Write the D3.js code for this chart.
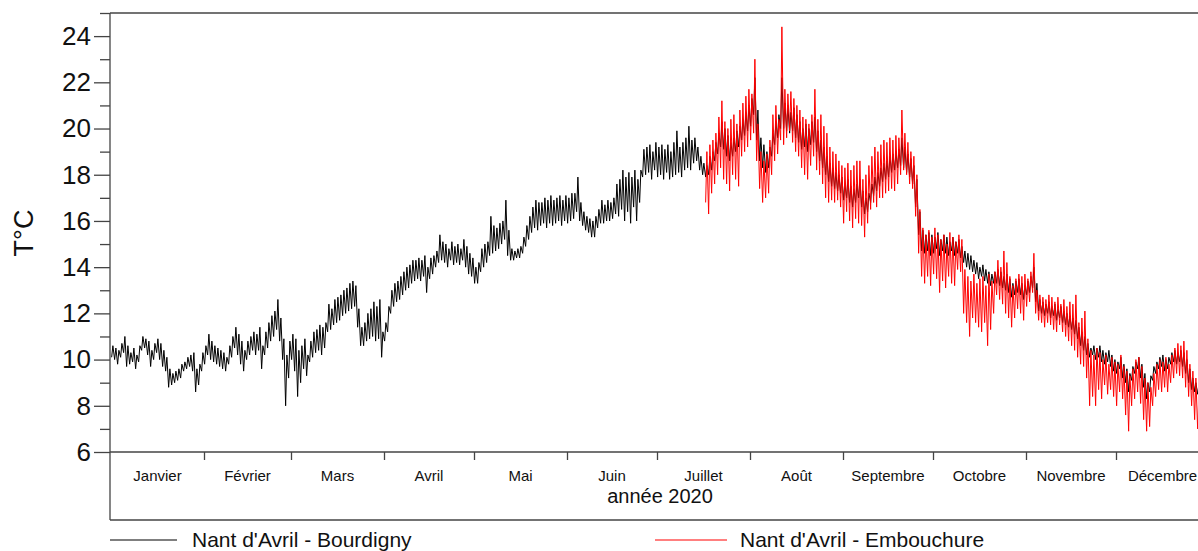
<!DOCTYPE html>
<html><head><meta charset="utf-8">
<script src="https://cdn.jsdelivr.net/npm/d3@7"></script>
<style>body{margin:0;background:#fff} svg{display:block} text{font-family:"Liberation Sans",Arial,sans-serif;fill:#111}</style>
</head><body><svg id="c" width="1198" height="551"></svg>
<script>
const monthLabels = ["Janvier","Février","Mars","Avril","Mai","Juin","Juillet","Août","Septembre","Octobre","Novembre","Décembre"];
const yMajorTicks = [6,8,10,12,14,16,18,20,22,24];
const yMinorTicks = [7,9,11,13,15,17,19,21,23,25];
const seriesNames = ["Nant d'Avril - Bourdigny","Nant d'Avril - Embouchure"];
const xTitle = "année 2020";
const yTitle = "T°C";

// Bourdigny: daily max / min, day 0 = 1 Jan 2020 (366 days)
const bourdignyMax = [
10.6,10.5,10.4,10.7,11.0,10.6,10.3,10.5,10.2,10.6,
11.0,10.9,10.8,10.4,10.7,10.9,10.7,10.4,10.1,9.6,
9.4,9.5,9.6,9.8,9.9,10.1,10.2,10.3,9.6,9.8,
10.3,10.6,11.1,10.8,10.6,10.5,10.4,10.3,10.1,10.6,
11.0,11.4,11.1,10.8,10.4,10.8,11.0,11.2,11.1,11.4,
10.6,11.2,11.6,11.9,12.1,12.6,11.8,10.9,10.2,10.8,
11.1,10.9,10.4,10.6,10.9,10.2,10.8,11.2,11.3,11.5,
11.4,11.6,12.4,12.2,12.6,12.7,12.8,13.0,13.1,13.3,
13.4,13.2,12.2,11.4,11.6,12.0,12.2,12.5,12.3,12.6,
11.2,11.6,12.3,13.0,13.3,13.4,13.6,13.8,14.0,14.1,
14.3,14.3,14.4,14.3,14.5,14.0,14.4,14.5,14.7,15.4,
15.1,15.0,14.8,15.1,14.9,15.0,14.8,15.2,14.9,14.6,
14.4,14.0,14.2,14.8,15.0,15.1,16.2,15.8,15.7,15.9,
16.0,16.9,15.6,14.8,14.7,14.8,14.9,15.3,15.8,16.2,
16.6,16.9,16.8,16.8,17.0,16.9,17.1,16.9,17.0,17.1,
16.9,17.1,17.0,17.2,17.2,17.9,16.8,16.4,16.2,16.1,
16.0,16.2,16.5,16.9,16.7,16.9,16.8,17.0,17.6,17.8,
18.2,17.9,18.1,17.9,18.2,17.8,18.2,19.1,19.2,19.3,
19.0,19.4,19.2,19.3,19.1,19.3,19.0,19.4,19.9,19.2,
19.4,19.6,20.1,19.5,19.6,19.2,18.8,18.5,18.4,18.8,
19.0,19.4,19.8,20.3,20.0,19.7,19.4,19.6,19.9,20.1,
20.4,20.7,21.0,21.3,22.2,20.8,19.6,19.3,19.0,19.2,
19.8,20.3,20.6,22.2,21.1,21.0,20.7,20.9,20.6,20.3,
20.0,20.2,20.0,20.3,20.5,19.9,19.5,19.2,18.8,18.5,
18.3,18.1,18.0,17.9,17.6,17.8,17.5,17.4,17.6,17.8,
17.3,17.0,17.2,17.6,17.9,18.1,18.3,18.5,18.6,18.8,
18.9,19.0,19.1,19.6,19.2,18.9,18.7,18.4,17.8,16.4,
15.6,15.4,15.5,15.4,15.3,15.5,15.2,15.4,15.3,15.1,
15.3,15.1,15.2,14.9,14.7,14.6,14.5,14.3,14.2,14.0,
14.1,13.9,13.8,13.7,13.8,13.9,13.8,13.6,13.7,13.5,
13.3,13.4,13.5,13.3,13.2,13.4,13.6,14.0,13.3,12.6,
12.5,12.4,12.5,12.3,12.4,12.2,12.3,12.1,12.0,11.9,
11.8,11.7,11.4,11.2,11.0,10.7,10.5,10.6,10.5,10.6,
10.4,10.3,10.4,10.2,10.0,9.9,10.1,9.8,9.6,9.4,
9.7,9.9,10.1,9.8,9.4,9.0,9.3,9.7,9.9,10.1,
10.2,10.0,10.1,10.3,10.4,10.3,10.4,10.3,10.0,9.6,
9.2,9.0,8.9,8.8,8.9,8.8];
const bourdignyMin = [
10.1,10.0,9.8,10.1,10.3,9.7,9.8,9.9,9.6,9.9,
10.4,10.5,10.2,9.7,10.0,10.3,10.0,9.7,9.5,8.8,
8.9,9.0,9.1,9.2,9.5,9.6,9.7,9.5,8.6,8.9,
9.5,9.8,10.2,10.0,9.9,9.8,9.7,9.6,9.5,9.8,
10.1,10.5,10.2,9.8,9.5,10.0,10.2,10.4,10.2,10.4,
9.6,10.2,10.5,10.8,11.0,11.3,10.8,10.0,8.0,9.2,
10.0,9.5,8.4,9.0,9.6,9.3,9.9,10.1,10.3,10.4,
10.2,10.5,11.2,11.3,11.5,11.6,11.7,11.9,12.0,12.1,
12.2,12.3,11.4,10.6,10.6,10.8,10.9,11.0,10.8,10.9,
10.1,10.8,11.2,12.0,12.3,12.5,12.6,12.8,13.0,13.1,
13.3,13.4,13.5,13.4,13.6,12.9,13.5,13.7,14.0,14.2,
14.3,14.2,14.0,14.3,14.1,14.2,14.1,14.3,14.0,13.7,
13.6,13.3,13.3,13.8,14.0,14.2,14.5,14.6,14.7,14.8,
15.0,15.2,14.5,14.3,14.3,14.4,14.4,14.6,14.9,15.2,
15.5,15.7,15.6,15.8,15.9,15.7,15.9,15.8,15.9,16.0,
15.8,16.0,15.9,16.0,16.1,16.4,16.0,15.8,15.6,15.5,
15.3,15.3,15.7,15.9,15.9,16.0,16.0,16.1,16.3,16.2,
16.5,16.0,16.4,15.9,16.6,16.0,16.8,17.9,18.0,18.1,
17.8,18.2,17.9,18.0,17.8,18.1,17.8,17.9,18.0,18.1,
17.9,18.2,18.3,18.2,18.5,18.6,18.2,18.0,17.9,18.0,
18.2,18.6,18.9,19.2,19.1,18.8,18.6,18.8,19.0,19.2,
19.5,19.7,19.9,20.1,20.6,19.5,18.6,18.3,18.1,18.3,
18.8,19.3,19.6,20.0,20.0,19.9,19.8,19.9,19.6,19.4,
19.1,19.2,19.0,19.3,19.4,19.0,18.6,18.3,18.0,17.7,
17.5,17.4,17.3,17.2,16.9,17.0,16.8,16.6,16.8,17.0,
16.6,16.3,16.4,16.8,17.1,17.3,17.5,17.7,17.8,17.9,
18.1,18.2,18.3,18.4,18.3,18.1,17.9,17.6,16.6,15.4,
14.7,14.6,14.7,14.5,14.6,14.8,14.5,14.7,14.6,14.5,
14.7,14.5,14.6,14.4,14.2,14.0,13.9,13.8,13.7,13.5,
13.6,13.4,13.3,13.2,13.3,13.3,13.2,13.1,13.0,12.9,
12.7,12.8,12.9,12.8,12.6,12.8,12.9,13.1,12.5,12.1,
12.0,11.9,12.0,11.8,11.9,11.7,11.8,11.6,11.5,11.4,
11.3,11.1,10.9,10.6,10.4,10.2,10.1,10.2,10.0,10.1,
9.9,9.8,9.9,9.7,9.5,9.4,9.6,9.2,9.0,8.6,
9.1,9.4,9.6,9.2,8.8,8.3,8.6,9.1,9.4,9.6,
9.7,9.5,9.6,9.8,9.9,9.8,9.9,9.7,9.4,9.0,
8.7,8.6,8.5,8.4,8.5,8.4];

// Embouchure: daily max / min from day 198 (17 July) to 31 Dec
const embouchureStartDay = 198;
const embouchureMax = [
19.0,19.3,19.5,19.8,20.5,21.2,20.3,20.0,20.4,20.6,
20.2,20.8,21.1,21.4,21.7,21.5,23.0,20.2,19.0,18.6,
18.9,19.5,20.6,21.0,20.4,24.4,21.7,21.5,21.6,21.3,
21.0,20.8,20.5,20.4,20.2,20.6,21.7,20.4,20.6,20.1,
19.8,19.2,19.0,18.9,18.6,18.4,18.3,18.5,18.2,18.4,
18.6,18.6,17.8,18.0,18.4,18.8,19.2,19.0,19.3,19.5,
19.4,19.6,19.5,19.7,19.6,20.8,19.8,19.4,19.0,18.8,
18.0,16.5,15.7,15.4,15.6,15.3,15.7,15.4,15.2,15.4,
15.0,15.5,15.3,15.1,15.4,15.2,13.9,13.6,13.4,13.7,
13.3,13.5,13.6,13.2,13.7,13.4,13.8,14.3,14.0,14.7,
14.2,13.6,13.2,13.5,13.7,13.6,13.7,13.5,13.8,14.6,
13.0,12.8,12.7,12.6,12.8,12.7,12.5,12.7,12.4,12.6,
12.3,12.5,12.4,12.8,11.6,11.8,12.1,10.9,10.4,10.2,
10.5,10.3,10.0,10.2,9.8,10.1,9.9,9.8,10.2,9.7,
9.5,9.3,9.6,10.0,10.1,9.7,9.2,9.0,8.8,9.4,
9.8,10.0,9.9,10.1,9.8,10.2,10.5,10.7,10.6,10.8,
10.4,9.8,9.5,9.2,8.5,8.3,8.6,8.4];
const embouchureMin = [
16.8,16.3,17.2,17.6,18.0,18.3,17.8,17.6,17.3,18.0,
17.8,17.5,18.8,19.0,19.2,19.5,19.8,18.6,17.4,16.8,
17.0,17.2,18.0,18.6,18.9,19.5,19.3,19.6,19.9,19.4,
19.0,18.8,18.3,18.0,17.8,18.4,18.8,18.2,18.0,17.6,
17.0,16.8,16.9,16.8,16.9,16.6,15.9,16.4,16.0,15.7,
16.1,15.9,15.8,15.3,15.9,16.5,16.8,16.6,17.0,17.0,
17.2,17.3,17.4,17.3,17.6,18.0,18.2,18.0,17.6,17.4,
16.2,14.6,13.6,13.3,13.6,13.2,13.7,13.5,12.9,13.4,
13.1,13.6,13.3,13.2,13.9,13.8,12.0,11.6,11.0,11.8,
11.6,11.4,11.2,11.6,10.6,11.3,12.0,12.8,12.6,12.4,
12.0,11.8,11.4,11.8,12.2,12.0,11.7,12.3,12.5,12.9,
12.0,11.7,11.6,11.4,11.6,11.5,11.3,11.2,11.5,11.2,
11.0,10.8,10.6,10.4,10.1,9.8,9.7,9.2,8.0,8.4,
8.0,8.7,8.3,8.9,8.5,8.7,8.4,8.0,8.6,8.3,
7.6,6.9,8.0,8.3,8.6,8.1,7.4,6.9,7.1,8.0,
8.4,8.7,8.6,8.8,8.6,9.0,9.2,9.4,9.3,9.2,
8.8,8.4,8.0,7.4,7.0,6.9,7.1,6.9];

const svg = d3.select("#c");
const W = 1198, H = 551;
const mLeft = 110, mTop = 13, axisY = 452, boxBottom = 520;
const x = d3.scaleUtc().domain([new Date(Date.UTC(2020,0,1)), new Date(Date.UTC(2021,0,1))]).range([111, 1209]);
const y = d3.scaleLinear().domain([6, 25]).range([axisY, mTop]);
const axisColor = "#444";

function dailyPoints(maxArr, minArr, start) {
  const pts = [];
  for (let i = 0; i < maxArr.length; i++) {
    pts.push([new Date(Date.UTC(2020, 0, 1 + start + i, 5)), minArr[i]]);
    pts.push([new Date(Date.UTC(2020, 0, 1 + start + i, 15)), maxArr[i]]);
  }
  return pts;
}
const line = d3.line().x(d => x(d[0])).y(d => y(d[1]));

svg.append("defs").append("clipPath").attr("id","plot")
  .append("rect").attr("x", mLeft).attr("y", mTop).attr("width", W - mLeft).attr("height", axisY - mTop);

const plot = svg.append("g").attr("clip-path","url(#plot)");
plot.append("path").datum(dailyPoints(bourdignyMax, bourdignyMin, 0))
  .attr("d", line).attr("fill","none").attr("stroke","#000").attr("stroke-width",1);
plot.append("path").datum(dailyPoints(embouchureMax, embouchureMin, embouchureStartDay))
  .attr("d", line).attr("fill","none").attr("stroke","#ff0000").attr("stroke-width",1);

// Y axes
const yMaj = svg.append("g").attr("transform",`translate(${mLeft},0)`)
  .call(d3.axisLeft(y).tickValues(yMajorTicks).tickSize(16).tickPadding(3).tickFormat(d3.format("d")));
const yMin = svg.append("g").attr("transform",`translate(${mLeft},0)`)
  .call(d3.axisLeft(y).tickValues(yMinorTicks).tickSize(10).tickFormat(""));
[yMaj, yMin].forEach(g => {
  g.select(".domain").remove();
  g.selectAll(".tick line").attr("stroke", axisColor).attr("stroke-width", 1.3);
});
yMaj.selectAll(".tick text").attr("font-size", 26).attr("font-family","Liberation Sans, Arial, sans-serif").attr("fill","#111");

// Month boundary ticks
const monthStarts = d3.utcMonths(new Date(Date.UTC(2020,1,1)), new Date(Date.UTC(2021,0,1)));
const xAx = svg.append("g").attr("transform",`translate(0,${axisY})`)
  .call(d3.axisBottom(x).tickValues(monthStarts).tickSize(8).tickFormat(""));
xAx.select(".domain").remove();
xAx.selectAll(".tick line").attr("stroke", axisColor).attr("stroke-width", 1.3);

// Frame lines
const frame = svg.append("g").attr("stroke", axisColor).attr("stroke-width", 1.3).attr("fill","none");
frame.append("line").attr("x1", mLeft).attr("x2", mLeft).attr("y1", mTop).attr("y2", boxBottom);
frame.append("line").attr("x1", mLeft).attr("x2", W).attr("y1", mTop).attr("y2", mTop);
frame.append("line").attr("x1", mLeft).attr("x2", W).attr("y1", axisY).attr("y2", axisY);
frame.append("line").attr("x1", mLeft).attr("x2", W).attr("y1", boxBottom).attr("y2", boxBottom);

// Month labels at mid-month
svg.append("g").selectAll("text").data(monthLabels).join("text")
  .attr("x", (d, i) => (x(new Date(Date.UTC(2020, i, 1))) + x(new Date(Date.UTC(2020, i + 1, 1)))) / 2)
  .attr("y", 481).attr("text-anchor","middle").attr("font-size", 15).text(d => d);

svg.append("text").attr("x", (x.range()[0] + x.range()[1]) / 2).attr("y", 503)
  .attr("text-anchor","middle").attr("font-size", 20).text(xTitle);

svg.append("text").attr("transform","translate(33,233) rotate(-90)")
  .attr("text-anchor","middle").attr("font-size", 27).text(yTitle);

// Legend
const legendItems = [
  {name: seriesNames[0], color: "#000", x1: 110, x2: 177, tx: 192},
  {name: seriesNames[1], color: "#ff0000", x1: 655, x2: 727, tx: 740}
];
const lg = svg.append("g");
lg.selectAll("line").data(legendItems).join("line")
  .attr("x1", d => d.x1).attr("x2", d => d.x2).attr("y1", 540).attr("y2", 540)
  .attr("stroke", d => d.color).attr("stroke-width", 1.2);
lg.selectAll("text").data(legendItems).join("text")
  .attr("x", d => d.tx).attr("y", 547).attr("font-size", 21).text(d => d.name);
</script>
</body></html>
